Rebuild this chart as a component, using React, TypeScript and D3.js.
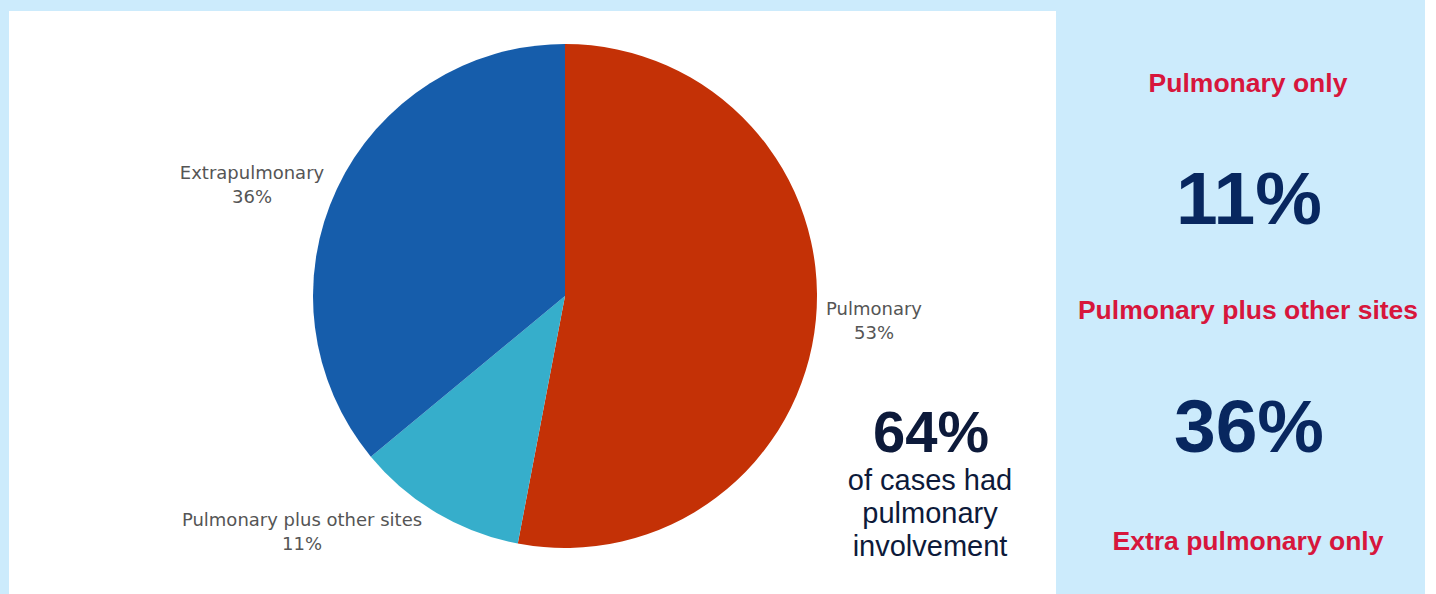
import React from "react";
import * as d3 from "d3";

const categories = ["Pulmonary", "Pulmonary plus other sites", "Extrapulmonary"];
const values = [53, 11, 36];
const colors = ["#C43106", "#36AECB", "#165DAB"];

const sideHeadings = ["Pulmonary only", "Pulmonary plus other sites", "Extra pulmonary only"];
const sideValues = ["11%", "36%"];

const calloutValue = "64%";
const calloutLines = ["of cases had", "pulmonary", "involvement"];

const W = 1436;
const H = 594;

export default function App() {
  const cx = 565;
  const cy = 296;
  const r = 252;
  const pie = d3.pie<number>().sort(null).value((d) => d)(values);
  const arc = d3.arc<d3.PieArcDatum<number>>().innerRadius(0).outerRadius(r);

  const labelPos: Record<string, [number, number]> = {
    "Pulmonary": [874, 315],
    "Pulmonary plus other sites": [302, 526],
    "Extrapulmonary": [252, 179],
  };

  return (
    <svg width={W} height={H} style={{ position: "absolute", left: 0, top: 0, display: "block" }}>
      <rect x={0} y={0} width={1425} height={H} fill="#CCEBFC" />
      <rect x={9} y={11} width={1047} height={H - 11} fill="#FFFFFF" />
      <g transform={`translate(${cx},${cy})`}>
        {pie.map((p, i) => (
          <path key={i} d={arc(p) || ""} fill={colors[i]} />
        ))}
      </g>
      {categories.map((c, i) => {
        const [lx, ly] = labelPos[c];
        return (
          <text
            key={c}
            x={lx}
            y={ly}
            textAnchor="middle"
            fontFamily="DejaVu Sans, Verdana, sans-serif"
            fontSize={18}
            fill="#555555"
          >
            <tspan x={lx}>{c}</tspan>
            <tspan x={lx} dy={24}>{`${values[i]}%`}</tspan>
          </text>
        );
      })}
      <text x={931} y={452} textAnchor="middle" fontFamily="Liberation Sans, Arial, sans-serif" fontWeight="bold" fontSize={58} fill="#0D1A3A">
        {calloutValue}
      </text>
      {calloutLines.map((t, i) => (
        <text key={t} x={930} y={490 + i * 33} textAnchor="middle" fontFamily="Liberation Sans, Arial, sans-serif" fontSize={29} fill="#0D1A3A">
          {t}
        </text>
      ))}
      <text x={1248} y={92} textAnchor="middle" fontFamily="Liberation Sans, Arial, sans-serif" fontWeight="bold" fontSize={26.5} fill="#D7163C">
        {sideHeadings[0]}
      </text>
      <text x={1249} y={224} textAnchor="middle" fontFamily="Liberation Sans, Arial, sans-serif" fontWeight="bold" fontSize={75} fill="#08275F">
        {sideValues[0]}
      </text>
      <text x={1248} y={319} textAnchor="middle" fontFamily="Liberation Sans, Arial, sans-serif" fontWeight="bold" fontSize={26.5} fill="#D7163C">
        {sideHeadings[1]}
      </text>
      <text x={1249} y={452} textAnchor="middle" fontFamily="Liberation Sans, Arial, sans-serif" fontWeight="bold" fontSize={75} fill="#08275F">
        {sideValues[1]}
      </text>
      <text x={1248} y={550} textAnchor="middle" fontFamily="Liberation Sans, Arial, sans-serif" fontWeight="bold" fontSize={26.5} fill="#D7163C">
        {sideHeadings[2]}
      </text>
    </svg>
  );
}
